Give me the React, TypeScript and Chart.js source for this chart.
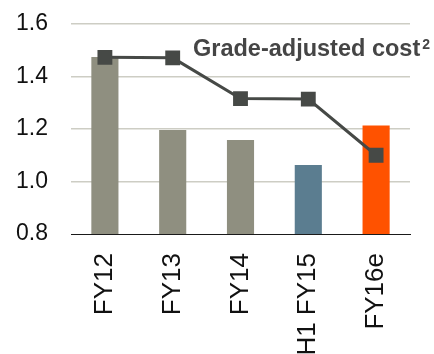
import React, { useEffect, useRef } from "react";
import { Chart, registerables } from "chart.js";

Chart.register(...registerables);

const categories = ["FY12", "FY13", "FY14", "H1 FY15", "FY16e"];
const barValues = [1.474, 1.196, 1.158, 1.063, 1.213];
const barColors = ["#8f8f80", "#8f8f80", "#8f8f80", "#5b7d90", "#ff5200"];
const gradeAdjustedCost = [1.473, 1.471, 1.316, 1.314, 1.1];
const yTicks = [0.8, 1.0, 1.2, 1.4, 1.6];

const FONT = "'Liberation Sans', Arial, Helvetica, sans-serif";

// Series caption with a superscript footnote marker, drawn inside the plot
const captionPlugin = {
  id: "seriesCaption",
  afterDraw(chart: any) {
    const { ctx, chartArea } = chart;
    ctx.save();
    ctx.fillStyle = "#454545";
    ctx.textBaseline = "alphabetic";
    ctx.textAlign = "left";
    ctx.font = `bold 23.5px ${FONT}`;
    const text = "Grade-adjusted cost";
    const x = chartArea.left + 122;
    const y = chartArea.top + 32;
    ctx.fillText(text, x, y);
    const w = ctx.measureText(text).width;
    ctx.font = `bold 14px ${FONT}`;
    ctx.fillText("2", x + w + 2, y - 7);
    ctx.restore();
  },
};

export default function App() {
  const canvasRef = useRef<HTMLCanvasElement | null>(null);

  useEffect(() => {
    if (!canvasRef.current) return;
    const chart = new Chart(canvasRef.current, {
      type: "bar",
      data: {
        labels: categories,
        datasets: [
          {
            type: "line",
            label: "Grade-adjusted cost",
            data: gradeAdjustedCost,
            borderColor: "#464946",
            backgroundColor: "#464946",
            borderWidth: 3,
            pointStyle: "rect",
            pointRadius: 10.5,
            pointBorderWidth: 0,
            pointBackgroundColor: "#464946",
            order: 0,
          },
          {
            type: "bar",
            label: "Cost",
            data: barValues,
            backgroundColor: barColors,
            barPercentage: 0.4,
            categoryPercentage: 1,
            order: 1,
          },
        ],
      },
      plugins: [captionPlugin],
      options: {
        animation: false,
        responsive: true,
        maintainAspectRatio: false,
        layout: { padding: { top: 24, right: 24, left: 0, bottom: 0 } },
        plugins: {
          legend: { display: false },
          tooltip: { enabled: false },
          title: { display: false },
        },
        scales: {
          x: {
            grid: { display: false },
            border: { display: true, color: "#1a1a1a", width: 1 },
            ticks: {
              color: "#111111",
              font: { family: FONT, size: 26 },
              minRotation: 90,
              maxRotation: 90,
              autoSkip: false,
              padding: 11,
            },
            afterFit(scale: any) {
              scale.height = 120;
            },
          },
          y: {
            min: 0.8,
            max: 1.6,
            afterBuildTicks(scale: any) {
              scale.ticks = yTicks.map((v) => ({ value: v }));
            },
            grid: {
              drawTicks: false,
              lineWidth: 1.5,
              color: (c: any) =>
                c.tick && c.tick.value === 0.8 ? "rgba(0,0,0,0)" : "#cdcdc4",
            },
            border: { display: false },
            ticks: {
              color: "#111111",
              font: { family: FONT, size: 23 },
              padding: 23,
              callback: (v: any) => Number(v).toFixed(1),
            },
            afterFit(scale: any) {
              scale.width = 71;
              scale.paddingTop = 0;
              scale.paddingBottom = 0;
            },
          },
        },
      },
    } as any);
    return () => chart.destroy();
  }, []);

  return (
    <div
      style={{
        position: "fixed",
        left: 0,
        top: 0,
        width: 434,
        height: 354,
        background: "#ffffff",
      }}
    >
      <canvas ref={canvasRef} />
    </div>
  );
}
